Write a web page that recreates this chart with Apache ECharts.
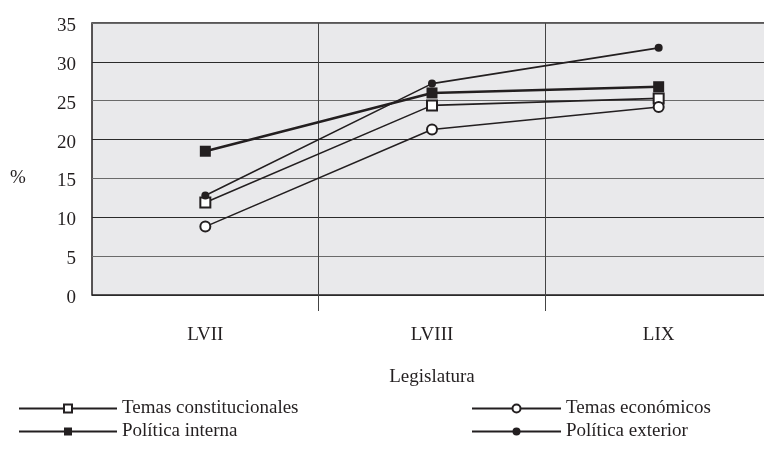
<!DOCTYPE html>
<html>
<head>
<meta charset="utf-8">
<script src="https://cdn.jsdelivr.net/npm/echarts@6/dist/echarts.min.js"></script>
<style>
  html, body { margin: 0; padding: 0; background: #fff; }
  #chart { width: 764px; height: 450px; }
</style>
</head>
<body>
<div id="chart"></div>
<script>
const legislaturas = ['LVII', 'LVIII', 'LIX'];
const temasConstitucionales = [11.9, 24.4, 25.3];
const temasEconomicos = [8.8, 21.3, 24.2];
const politicaInterna = [18.5, 26.0, 26.8];
const politicaExterior = [12.8, 27.2, 31.8];

const ink = '#231f20';
const serif = '"Liberation Serif", "DejaVu Serif", serif';

const chart = echarts.init(document.getElementById('chart'), null, { renderer: 'canvas' });

const legendText = { fontFamily: serif, fontSize: 19, color: ink };

// one legend box per entry, so the two-by-two layout stays put
function legendAt(name, left, top, width) {
  return {
    data: [name],
    left: left, top: top,
    padding: 0,
    itemWidth: width, itemHeight: 10,
    textStyle: legendText,
    selectedMode: false
  };
}

const option = {
  animation: false,
  grid: {
    left: 92, top: 23, width: 680, height: 272,
    outerBoundsMode: 'none',
    show: true,
    backgroundColor: '#e9e9eb',
    borderColor: ink,
    borderWidth: 1.5
  },
  legend: [
    legendAt('Temas constitucionales', 18, 399, 98),
    legendAt('Política interna', 18, 422, 98),
    legendAt('Temas económicos', 471, 399, 89),
    legendAt('Política exterior', 471, 422, 89)
  ],
  xAxis: {
    type: 'category',
    data: legislaturas,
    boundaryGap: true,
    name: 'Legislatura',
    nameLocation: 'middle',
    nameGap: 73,
    nameTextStyle: { fontFamily: serif, fontSize: 19, color: ink },
    axisLine: { show: false },
    axisTick: {
      show: true, length: 16, interval: (i) => i > 0,
      lineStyle: { color: '#444', width: 1 }
    },
    splitLine: { show: true, interval: (i) => i > 0, lineStyle: { color: '#444', width: 1 } },
    axisLabel: { fontFamily: serif, fontSize: 19, color: ink, margin: 31 }
  },
  yAxis: {
    type: 'value',
    min: 0, max: 35, interval: 5,
    name: '%',
    nameLocation: 'middle',
    nameRotate: 0,
    nameGap: 74,
    nameTextStyle: {
      fontFamily: serif, fontSize: 19, color: ink,
      align: 'center', verticalAlign: 'top', lineHeight: 38
    },
    axisLine: { show: false },
    axisTick: { show: false },
    axisLabel: {
      fontFamily: serif, fontSize: 19, color: ink, margin: 16,
      verticalAlign: 'top', lineHeight: 6
    },
    splitLine: { show: true, lineStyle: { color: ['#2a2a2a', '#6a6a6a'], width: 1.2 } }
  },
  series: [
    {
      name: 'Temas constitucionales', type: 'line', data: temasConstitucionales,
      symbol: 'emptyRect', symbolSize: 10,
      itemStyle: { color: ink, borderWidth: 1.5 },
      lineStyle: { color: ink, width: 1.6 }
    },
    {
      name: 'Temas económicos', type: 'line', data: temasEconomicos,
      symbol: 'emptyCircle', symbolSize: 10,
      itemStyle: { color: ink, borderWidth: 1.5 },
      lineStyle: { color: ink, width: 1.6 }
    },
    {
      name: 'Política interna', type: 'line', data: politicaInterna,
      symbol: 'rect', symbolSize: 11,
      itemStyle: { color: ink },
      lineStyle: { color: ink, width: 2.6 }
    },
    {
      name: 'Política exterior', type: 'line', data: politicaExterior,
      symbol: 'circle', symbolSize: 8,
      itemStyle: { color: ink },
      lineStyle: { color: ink, width: 1.6 }
    }
  ]
};

chart.setOption(option);
</script>
</body>
</html>
